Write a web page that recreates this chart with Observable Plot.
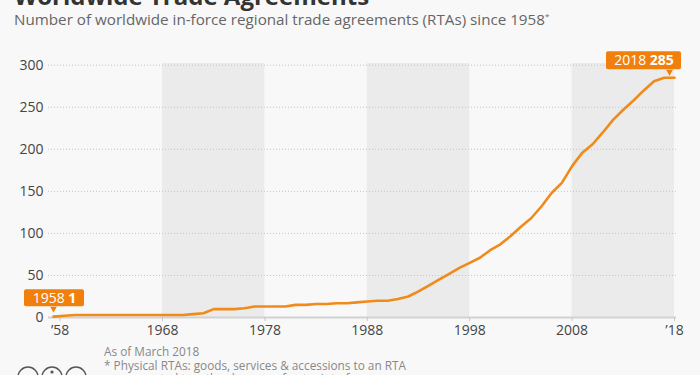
<!DOCTYPE html>
<html>
<head>
<meta charset="utf-8">
<script src="https://cdn.jsdelivr.net/npm/d3@7"></script>
<script src="https://cdn.jsdelivr.net/npm/@observablehq/plot@0.6"></script>
<style>
  html, body { margin: 0; padding: 0; background: #f8f8f8; width: 700px; height: 375px; overflow: hidden; font-family: "Open Sans", sans-serif; }
  #wrap { position: relative; width: 700px; height: 375px; }
  #title { position: absolute; left: 14px; top: -16px; font-size: 24px; line-height: 24px; font-weight: 700; color: #333; white-space: nowrap; }
  #subtitle { position: absolute; left: 14px; top: 8px; font-size: 15.2px; line-height: 15px; color: #666; white-space: nowrap; }
  #chart { position: absolute; left: 0; top: 30px; }
  #footer { position: absolute; left: 104px; top: 345px; font-size: 11.8px; line-height: 13.5px; color: #888; white-space: nowrap; }
  #footer .ind { padding-left: 8px; }
  #cc { position: absolute; left: 16px; top: 366px; }
</style>
</head>
<body>
<div id="wrap">
  <div id="title">Worldwide Trade Agreements</div>
  <div id="subtitle">Number of worldwide in-force regional trade agreements (RTAs) since 1958<sup style="font-size:8px">*</sup></div>
  <div id="chart"></div>
  <div id="footer">
    <div>As of March 2018</div>
    <div>* Physical RTAs: goods, services &amp; accessions to an RTA</div>
    <div class="ind">are counted together by year of entry into force</div>
  </div>
  <svg id="cc" width="80" height="12" viewBox="0 0 80 12">
    <circle cx="12" cy="11" r="10" fill="none" stroke="#555" stroke-width="1.5"/>
    <circle cx="36" cy="11" r="10" fill="none" stroke="#555" stroke-width="1.5"/>
    <circle cx="60" cy="11" r="10" fill="none" stroke="#555" stroke-width="1.5"/>
    <circle cx="36" cy="6" r="1.6" fill="#555"/>
  </svg>
</div>
<script>
const years = [1958,1959,1960,1961,1962,1963,1964,1965,1966,1967,
  1968,1969,1970,1971,1972,1973,1974,1975,1976,1977,
  1978,1979,1980,1981,1982,1983,1984,1985,1986,1987,
  1988,1989,1990,1991,1992,1993,1994,1995,1996,1997,
  1998,1999,2000,2001,2002,2003,2004,2005,2006,2007,
  2008,2009,2010,2011,2012,2013,2014,2015,2016,2017,2018];
const agreements = [1,2,3,3,3,3,3,3,3,3,
  3,3,3,4,5,10,10,10,11,13,
  13,13,13,15,15,16,16,17,17,18,
  19,20,20,22,25,31,38,45,52,59,
  65,71,80,87,97,108,118,132,148,160,
  180,196,206,220,235,247,258,270,281,285,285];
const xTicks = [1958,1968,1978,1988,1998,2008,2018];
const xTickLabels = ["\u201958","1968","1978","1988","1998","2008","\u201918"];
const yTicks = [0,50,100,150,200,250,300];
const bandStarts = [1968,1988,2008];
const bandEnds = [1978,1998,2018];

const data = years.map((y, i) => ({year: y, value: agreements[i]}));
const bands = bandStarts.map((s, i) => ({start: s, end: bandEnds[i]}));
const first = [{year: years[0], value: agreements[0], text: years[0] + " " + agreements[0]}];
const last = [{year: years[years.length-1], value: agreements[agreements.length-1], text: years[years.length-1] + " " + agreements[agreements.length-1]}];

const orange = "#f08a1a";
const boxOrange = "#f07f0c";

// the first decade is drawn slightly wider than the others in the reference
const firstDecadeStretch = 1.0645;
const xTransform = (y) => y < 1968 ? 1968 - (1968 - y) * firstDecadeStretch : y;

const plot = Plot.plot({
  width: 700,
  height: 315,
  marginLeft: 53,
  marginRight: 26,
  marginTop: 33,
  marginBottom: 28,
  style: {fontFamily: "Open Sans", fontSize: "14px", background: "transparent", color: "#333", overflow: "visible"},
  x: {transform: xTransform},
  y: {domain: [0, 302]},
  marks: [
    Plot.rect(bands, {x1: "start", x2: "end", fill: "#ebebeb"}),
    Plot.ruleY(yTicks.slice(1), {stroke: "#c4c4c4", strokeDasharray: "1,2", insetLeft: -5, insetRight: -2}),
    Plot.ruleY([0], {stroke: "#d2d2d2", strokeWidth: 2, insetLeft: -5, insetRight: -2}),
    Plot.axisX({ticks: xTicks, tickFormat: (d, i) => xTickLabels[i], tickSize: 4, tickPadding: 4, stroke: "#c8c8c8", fill: "#444", fontSize: 14, label: null}),
    Plot.axisY({ticks: yTicks, tickSize: 0, tickPadding: 10, fill: "#444", fontSize: 14, label: null}),
    Plot.line(data, {x: "year", y: "value", stroke: orange, strokeWidth: 2.6, strokeLinejoin: "round", strokeLinecap: "round"}),
    Plot.rect(first, {x1: "year", x2: "year", y1: "value", y2: "value", insetLeft: -29, insetRight: -31, insetTop: -27, insetBottom: 10, fill: boxOrange, rx: 2}),
    Plot.dot(first, {x: "year", y: "value", symbol: "triangle", rotate: 180, r: 2.5, fill: boxOrange, dy: -8}),
    Plot.text(first, {x: "year", y: "value", text: "text", dx: 1, dy: -18.5, fill: "white", fontSize: 14, className: "lbl"}),
    Plot.rect(last, {x1: "year", x2: "year", y1: "value", y2: "value", insetLeft: -68, insetRight: -7, insetTop: -26, insetBottom: 8, fill: boxOrange, rx: 2}),
    Plot.dot(last, {x: "year", y: "value", symbol: "triangle", rotate: 180, r: 2.5, fill: boxOrange, dx: -5, dy: -6}),
    Plot.text(last, {x: "year", y: "value", text: "text", dx: -30.5, dy: -17, fill: "white", fontSize: 14, className: "lbl"})
  ]
});
document.getElementById("chart").appendChild(plot);
d3.select(plot).selectAll(".lbl text").each(function() {
  const t = d3.select(this);
  const parts = t.text().split(" ");
  t.text(null);
  t.append("tspan").text(parts[0] + " ");
  t.append("tspan").attr("font-weight", 700).text(parts[1]);
});
</script>
</body>
</html>
